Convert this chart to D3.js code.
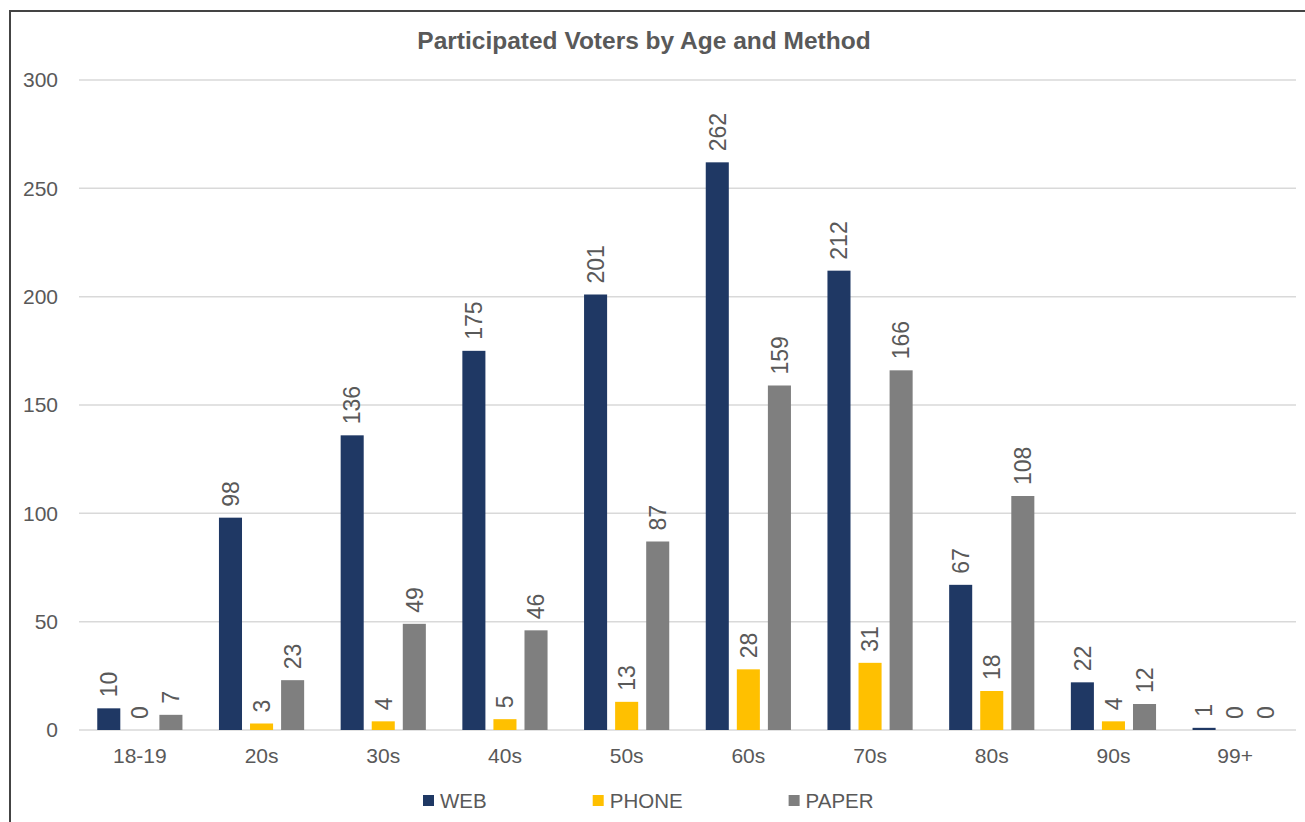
<!DOCTYPE html>
<html>
<head>
<meta charset="utf-8">
<script src="https://cdn.jsdelivr.net/npm/d3@7"></script>
<style>
  html, body { margin: 0; padding: 0; background: #fff; }
  svg { display: block; }
  text { font-family: "Liberation Sans", Arial, sans-serif; }
</style>
</head>
<body>
<svg id="chart" width="1305" height="822"></svg>
<script>
const categories = ["18-19", "20s", "30s", "40s", "50s", "60s", "70s", "80s", "90s", "99+"];
const seriesNames = ["WEB", "PHONE", "PAPER"];
const webValues   = [10, 98, 136, 175, 201, 262, 212, 67, 22, 1];
const phoneValues = [0, 3, 4, 5, 13, 28, 31, 18, 4, 0];
const paperValues = [7, 23, 49, 46, 87, 159, 166, 108, 12, 0];
const yTicks = [0, 50, 100, 150, 200, 250, 300];
const colors = ["#1F3864", "#FFC000", "#7F7F7F"];
const title = "Participated Voters by Age and Method";

const seriesValues = [webValues, phoneValues, paperValues];

const svg = d3.select("#chart");
const W = 1305, H = 822;
const plot = { left: 79, right: 1296, top: 80, bottom: 730 };

// frame border
svg.append("rect")
  .attr("x", 10).attr("y", 11)
  .attr("width", W + 20).attr("height", H + 20)
  .attr("fill", "#fff").attr("stroke", "#444").attr("stroke-width", 2);

const x = d3.scaleBand().domain(categories).range([plot.left, plot.right]).paddingInner(0.30).paddingOuter(0.15);
const xs = d3.scaleBand().domain(seriesNames).range([0, x.bandwidth()]).paddingInner(0.258).paddingOuter(0);
const y = d3.scaleLinear().domain([0, 300]).range([plot.bottom, plot.top]);

// gridlines
svg.append("g").selectAll("line").data(yTicks).join("line")
  .attr("x1", plot.left).attr("x2", plot.right)
  .attr("y1", d => y(d)).attr("y2", d => y(d))
  .attr("stroke", "#D9D9D9").attr("stroke-width", 1.5);

// y axis labels
const yAxis = d3.axisLeft(y).tickValues(yTicks).tickSize(0).tickPadding(0);
const yg = svg.append("g").attr("transform", `translate(58,0)`).call(yAxis);
yg.select(".domain").remove();
yg.selectAll("text").attr("font-size", 21).attr("fill", "#595959").attr("font-family", "Liberation Sans, Arial, sans-serif");

// x axis labels
const xAxis = d3.axisBottom(x).tickSize(0).tickPadding(0);
const xg = svg.append("g").attr("transform", `translate(0,${plot.bottom + 18})`).call(xAxis);
xg.select(".domain").remove();
xg.selectAll("text").attr("font-size", 21).attr("fill", "#595959").attr("font-family", "Liberation Sans, Arial, sans-serif");

// bars
const groups = svg.append("g").selectAll("g").data(categories).join("g")
  .attr("transform", d => `translate(${x(d)},0)`);

const cells = groups.selectAll("g.cell")
  .data((c, i) => seriesNames.map((s, j) => ({ s, j, v: seriesValues[j][i] })))
  .join("g").attr("class", "cell");

cells.append("rect")
  .attr("x", d => xs(d.s))
  .attr("y", d => y(d.v))
  .attr("width", xs.bandwidth())
  .attr("height", d => y(0) - y(d.v))
  .attr("fill", d => colors[d.j]);

cells.append("text")
  .attr("transform", d => `translate(${xs(d.s) + xs.bandwidth() / 2},${y(d.v) - 11}) rotate(-90)`)
  .attr("dy", "0.36em")
  .attr("text-anchor", "start")
  .attr("font-size", 23)
  .attr("fill", "#595959")
  .text(d => d.v);

// title
svg.append("text")
  .attr("x", 644).attr("y", 49)
  .attr("text-anchor", "middle")
  .attr("font-size", 24.5).attr("font-weight", "bold")
  .attr("fill", "#595959")
  .text(title);

// legend
const legend = svg.append("g").attr("transform", "translate(0,801)");
let lx = 423;
seriesNames.forEach((s, j) => {
  const g = legend.append("g").attr("transform", `translate(${lx},0)`);
  g.append("rect").attr("x", 0).attr("y", -6).attr("width", 11).attr("height", 11).attr("fill", colors[j]);
  const t = g.append("text").attr("x", 17).attr("dy", "0.36em")
    .attr("font-size", 20.5).attr("fill", "#595959").text(s);
  const tw = t.node().getComputedTextLength();
  lx += 17 + tw + 106;
});
</script>
</body>
</html>
